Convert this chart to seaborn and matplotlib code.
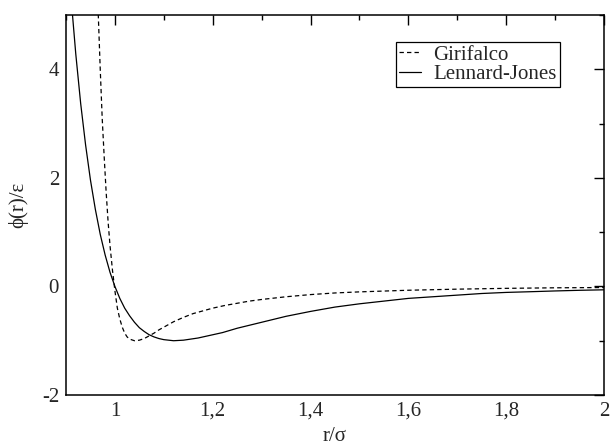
import numpy as np
import pandas as pd
import matplotlib
matplotlib.use("Agg")
import matplotlib.pyplot as plt
from matplotlib.ticker import MultipleLocator, FuncFormatter
import seaborn as sns

# valeurs
r_lj = [0.905, 0.91, 0.92, 0.93, 0.94, 0.95, 0.96, 0.97, 0.98, 0.99, 1.00,
        1.01, 1.02, 1.03, 1.04, 1.05, 1.06, 1.07, 1.08, 1.09, 1.10, 1.12,
        1.14, 1.17, 1.20, 1.22, 1.25, 1.30, 1.35, 1.40, 1.45, 1.50, 1.55,
        1.60, 1.65, 1.70, 1.75, 1.80, 1.85, 1.90, 1.95, 2.00]
phi_lj = [5.95, 5.35, 4.28, 3.37, 2.61, 1.96, 1.42, 0.96, 0.58, 0.26, 0.0,
          -0.22, -0.40, -0.54, -0.66, -0.76, -0.83, -0.89, -0.93, -0.96, -0.98, -1.00,
          -0.99, -0.95, -0.89, -0.85, -0.77, -0.66, -0.55, -0.46, -0.38, -0.32, -0.27,
          -0.22, -0.19, -0.16, -0.13, -0.11, -0.097, -0.083, -0.071, -0.062]

r_gir = [0.963, 0.966, 0.970, 0.974, 0.978, 0.982, 0.986, 0.990, 0.995, 1.000,
         1.005, 1.010, 1.015, 1.020, 1.025, 1.030, 1.040, 1.050, 1.060, 1.070,
         1.080, 1.090, 1.100, 1.120, 1.140, 1.160, 1.180, 1.200, 1.225, 1.250,
         1.275, 1.300, 1.350, 1.400, 1.450, 1.500, 1.600, 1.700, 1.800, 1.900, 2.000]
phi_gir = [5.6, 5.0, 4.0, 3.1, 2.4, 1.75, 1.2, 0.75, 0.3, -0.08,
           -0.40, -0.60, -0.75, -0.86, -0.93, -0.97, -1.00, -0.99, -0.96, -0.91,
           -0.86, -0.80, -0.75, -0.65, -0.57, -0.50, -0.45, -0.40, -0.35, -0.31,
           -0.27, -0.24, -0.19, -0.15, -0.12, -0.10, -0.07, -0.05, -0.035, -0.025, -0.02]

df_lj = pd.DataFrame({"r": r_lj, "phi": phi_lj})
df_gir = pd.DataFrame({"r": r_gir, "phi": phi_gir})

sns.set_style("white")
plt.rcParams['font.family'] = ['Liberation Serif', 'DejaVu Serif']

fig = plt.figure(figsize=(6.14, 4.47), dpi=100)
ax = fig.add_axes([0.1075, 0.1163, 0.8762, 0.8501])

sns.lineplot(data=df_gir, x="r", y="phi", ax=ax, color="black", lw=0.9,
             linestyle=(0, (3.5, 2.5)), label="Girifalco", sort=False)
sns.lineplot(data=df_lj, x="r", y="phi", ax=ax, color="black", lw=0.9,
             label="Lennard-Jones", sort=False)

ax.set_xlim(0.9, 2.0)
ax.set_ylim(-2, 5)
ax.xaxis.set_major_locator(MultipleLocator(0.2))
ax.xaxis.set_minor_locator(MultipleLocator(0.1))
ax.yaxis.set_major_locator(MultipleLocator(2))
ax.yaxis.set_minor_locator(MultipleLocator(1))

def fmt_x(v, pos):
    s = f"{v:.1f}".rstrip("0").rstrip(".")
    return s.replace(".", ",")

ax.xaxis.set_major_formatter(FuncFormatter(fmt_x))
ax.yaxis.set_major_formatter(FuncFormatter(lambda v, p: f"{v:.0f}"))

ax.tick_params(which="both", direction="in", top=True, right=True,
               labelsize=15, color="black", width=1.0)
ax.tick_params(which="major", length=7.5, pad=5)
ax.tick_params(which="minor", length=3.75)
for sp in ax.spines.values():
    sp.set_color("black")
    sp.set_linewidth(1.1)

ax.set_xlabel("r/σ", fontsize=15, labelpad=4)
ax.set_ylabel("ϕ(r)/ε", fontsize=15, labelpad=10)

leg = ax.legend(loc="upper right", bbox_to_anchor=(0.918, 0.929), fontsize=15,
                frameon=True, fancybox=False, edgecolor="black", framealpha=1,
                handlelength=1.05, borderpad=0.15, labelspacing=0.0,
                handletextpad=0.6, borderaxespad=0)
leg.get_frame().set_linewidth(0.9)

fig.savefig("out.png", dpi=100)
